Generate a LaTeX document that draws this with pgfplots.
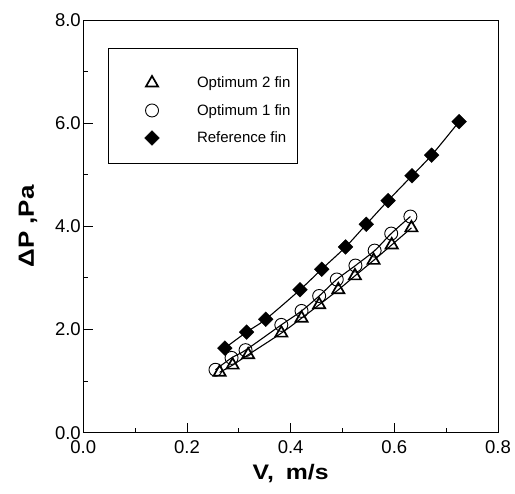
\documentclass[border=0pt]{standalone}
\usepackage{fontspec}
\setmainfont{Liberation Sans}
\newfontfamily\labelfont[FakeStretch=1.18]{Liberation Sans}
\usepackage{pgfplots}
\pgfplotsset{compat=1.18}
\begin{document}
\begin{tikzpicture}
\path[use as bounding box] (-83.3pt,-61.3pt) rectangle (431.7pt,432.7pt);
\begin{axis}[
  at={(0pt,0pt)}, anchor=south west,
  scale only axis, width=414.7pt, height=412.7pt,
  xmin=0, xmax=0.8, ymin=0, ymax=8,
  xtick={0,0.2,0.4,0.6,0.8}, ytick={0,2,4,6,8},
  minor xtick={0.1,0.3,0.5,0.7}, minor ytick={1,3,5,7},
  xtick pos=left, ytick pos=left,
  tick align=inside,
  major tick length=10pt, minor tick length=5pt,
  every tick/.style={black, line width=0.9pt},
  axis line style={line width=0.9pt},
  /pgf/number format/assume math mode=true,
  xticklabel style={/pgf/number format/fixed, /pgf/number format/fixed zerofill, /pgf/number format/precision=1},
  yticklabel style={/pgf/number format/fixed, /pgf/number format/fixed zerofill, /pgf/number format/precision=1},
  tick label style={font=\fontsize{18.5}{21}\selectfont},
  xticklabel shift=4pt,
  yticklabel shift=-1pt,
  xlabel={\labelfont\bfseries V,\hspace{12pt}m/s},
  ylabel={\labelfont\bfseries ΔP ,Pa},
  label style={font=\fontsize{21}{24}\selectfont},
  xlabel style={at={(axis description cs:0.5,-0.1146)}, anchor=base},
  ylabel style={at={(axis description cs:-0.1189,0.5)}, anchor=base, font=\fontsize{22}{25}\selectfont},
  legend style={at={(0.0789,0.8807)}, anchor=north west, draw=none, fill=none,
    inner sep=0pt, outer sep=0pt, row sep=0pt, column sep=0pt,
    nodes={inner sep=0pt, text depth=0.15em},
    font=\fontsize{15}{17}\selectfont},
  legend cell align=left,
  legend image code/.code={\path[draw=none, fill=none] (-36pt,-13.75pt) rectangle (45pt,13.75pt); \draw[#1] plot coordinates {(0pt,0pt)};},
]
% fitted curves
\addplot[black, line width=1.1pt, smooth, forget plot] coordinates {
 (0.263,1.17) (0.288,1.31) (0.318,1.51) (0.382,1.93) (0.421,2.22) (0.455,2.48)
 (0.492,2.77) (0.524,3.04) (0.560,3.34) (0.595,3.64) (0.633,3.97)};
\addplot[black, line width=1.1pt, smooth, forget plot] coordinates {
 (0.255,1.22) (0.286,1.45) (0.313,1.60) (0.382,2.09) (0.421,2.36) (0.455,2.65)
 (0.489,2.97) (0.525,3.24) (0.562,3.53) (0.594,3.86) (0.631,4.19)};
\addplot[black, line width=1.1pt, smooth, forget plot] coordinates {
 (0.273,1.64) (0.315,1.95) (0.352,2.20) (0.418,2.77) (0.460,3.17) (0.506,3.60)
 (0.546,4.04) (0.588,4.50) (0.634,4.98) (0.672,5.38) (0.725,6.03)};
% markers
\addplot[black, only marks, mark=triangle, mark size=7pt, mark options={line width=1.7pt}] coordinates {
 (0.263,1.17) (0.288,1.31) (0.318,1.51) (0.382,1.93) (0.421,2.22) (0.455,2.48)
 (0.492,2.77) (0.524,3.04) (0.560,3.34) (0.595,3.64) (0.633,3.97)};
\addlegendentry{Optimum 2 fin}
\addplot[black, only marks, mark=o, mark size=6.5pt, mark options={line width=0.9pt}] coordinates {
 (0.255,1.22) (0.286,1.45) (0.313,1.60) (0.382,2.09) (0.421,2.36) (0.455,2.65)
 (0.489,2.97) (0.525,3.24) (0.562,3.53) (0.594,3.86) (0.631,4.19)};
\addlegendentry{Optimum 1 fin}
\addplot[black, only marks, mark=square*, mark size=5.2pt, mark options={rotate=45}] coordinates {
 (0.273,1.64) (0.315,1.95) (0.352,2.20) (0.418,2.77) (0.460,3.17) (0.506,3.60)
 (0.546,4.04) (0.588,4.50) (0.634,4.98) (0.672,5.38) (0.725,6.03)};
\addlegendentry{Reference fin}
\draw[line width=0.8pt] (rel axis cs:0.0596,0.9322) rectangle (rel axis cs:0.5153,0.6535);
\end{axis}
\end{tikzpicture}
\end{document}
